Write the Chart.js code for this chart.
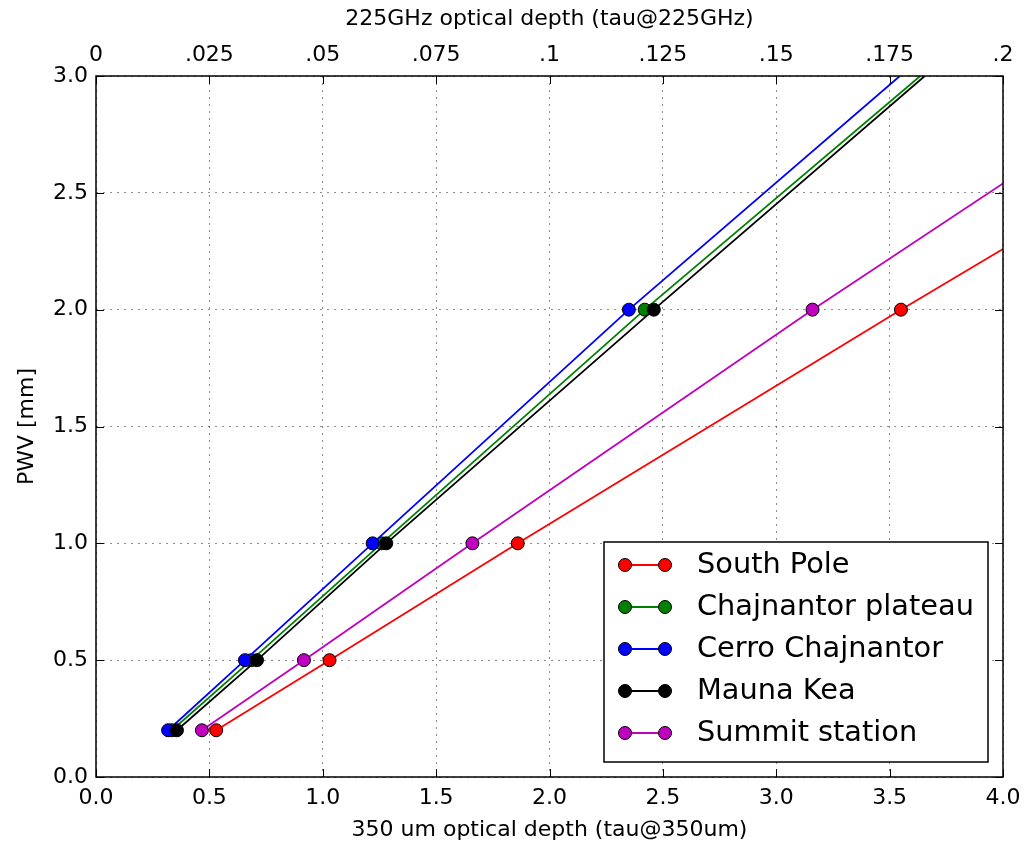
<!DOCTYPE html>
<html lang="en">
<head>
  <meta charset="UTF-8" />
  <title>PWV vs optical depth</title>
  <script src="https://cdn.jsdelivr.net/npm/chart.js"></script>
  <style>
    html, body { margin: 0; padding: 0; background: #fff; }
    #wrap { width: 1030px; height: 846px; }
  </style>
</head>
<body>
  <div id="wrap"><canvas id="grafica"></canvas></div>

  <script>
    // sites, in the order they are plotted
    const siteNames = ['South Pole', 'Chajnantor plateau', 'Cerro Chajnantor', 'Mauna Kea', 'Summit station'];
    const siteColors = ['#ff0000', '#008000', '#0000ff', '#000000', '#bf00bf'];

    // PWV [mm] where tau@350um was measured
    const pwvLevels = [0.2, 0.5, 1.0, 2.0];

    // tau@350um at each PWV level
    const tauSouthPole = [0.53, 1.03, 1.86, 3.55];
    const tauPlateau   = [0.335, 0.685, 1.26, 2.42];
    const tauCerro     = [0.318, 0.657, 1.22, 2.35];
    const tauMaunaKea  = [0.357, 0.71, 1.28, 2.46];
    const tauSummit    = [0.467, 0.917, 1.66, 3.16];

    // where each line runs out of the plot [tau@350um, pwv]
    const endSouthPole = [4.0, 2.26];
    const endPlateau   = [3.635, 3.0];
    const endCerro     = [3.545, 3.0];
    const endMaunaKea  = [3.655, 3.0];
    const endSummit    = [4.0, 2.54];

    // axis ticks
    const bottomTicks = [0, 0.5, 1.0, 1.5, 2.0, 2.5, 3.0, 3.5, 4.0];
    const yTicks = [0, 0.5, 1.0, 1.5, 2.0, 2.5, 3.0];
    const topTickLabels = ['0', '.025', '.05', '.075', '.1', '.125', '.15', '.175', '.2'];

    const siteTau = [tauSouthPole, tauPlateau, tauCerro, tauMaunaKea, tauSummit];
    const siteEnd = [endSouthPole, endPlateau, endCerro, endMaunaKea, endSummit];

    const datasets = siteNames.map((name, i) => {
      const pts = pwvLevels.map((p, k) => ({ x: siteTau[i][k], y: p }));
      pts.push({ x: siteEnd[i][0], y: siteEnd[i][1] });
      return {
        label: name,
        data: pts,
        borderColor: siteColors[i],
        backgroundColor: siteColors[i],
        pointBackgroundColor: siteColors[i],
        pointBorderColor: '#000',
        pointBorderWidth: 1,
        pointRadius: pts.map((_, k) => k < pwvLevels.length ? 6.5 : 0),
        borderWidth: 1.8,
        tension: 0,
        order: siteNames.length - i   // later sites on top, like the original
      };
    });

    const FONT = 'DejaVu Sans';

    // frame, inward ticks and legend
    const extrasPlugin = {
      id: 'extras',
      afterDraw(chart) {
        const { ctx, chartArea: a, scales } = chart;
        const tl = 8;
        ctx.save();
        ctx.strokeStyle = '#000';
        ctx.lineWidth = 1;
        const seg = (x1, y1, x2, y2) => { ctx.beginPath(); ctx.moveTo(x1, y1); ctx.lineTo(x2, y2); ctx.stroke(); };

        bottomTicks.forEach(v => {
          const px = Math.round(scales.x.getPixelForValue(v)) + 0.5;
          seg(px, a.bottom, px, a.bottom - tl);
        });
        scales.x2.ticks.forEach(t => {
          const px = Math.round(scales.x2.getPixelForValue(t.value)) + 0.5;
          seg(px, a.top, px, a.top + tl);
        });
        yTicks.forEach(v => {
          const py = Math.round(scales.y.getPixelForValue(v)) + 0.5;
          seg(a.left, py, a.left + tl, py);
          seg(a.right, py, a.right - tl, py);
        });

        ctx.lineWidth = 1.5;
        ctx.strokeRect(a.left, a.top, a.right - a.left, a.bottom - a.top);

        // legend box
        const bx = 604, by = 542, bw = 384, bh = 220;
        ctx.fillStyle = '#fff';
        ctx.fillRect(bx, by, bw, bh);
        ctx.lineWidth = 1.5;
        ctx.strokeRect(bx, by, bw, bh);
        ctx.font = '28.8px "' + FONT + '"';
        ctx.textBaseline = 'middle';
        siteNames.forEach((name, i) => {
          const y = 565 + i * 42;
          ctx.strokeStyle = siteColors[i];
          ctx.lineWidth = 1.8;
          seg(625, y, 665, y);
          [625, 665].forEach(cx => {
            ctx.beginPath();
            ctx.arc(cx, y, 6.5, 0, Math.PI * 2);
            ctx.fillStyle = siteColors[i];
            ctx.fill();
            ctx.lineWidth = 1;
            ctx.strokeStyle = '#000';
            ctx.stroke();
          });
          ctx.fillStyle = '#000';
          ctx.fillText(name, 697, y + 1);
        });
        ctx.restore();
      }
    };

    const gridStyle = {
      color: 'rgba(0,0,0,0.45)',
      lineWidth: 1,
      drawTicks: false
    };

    new Chart(document.getElementById('grafica').getContext('2d'), {
      type: 'line',
      data: { datasets },
      options: {
        responsive: true,
        maintainAspectRatio: false,
        devicePixelRatio: 1,
        animation: false,
        layout: { padding: { left: 0, right: 27, top: 0, bottom: 0 } },
        scales: {
          x: {
            type: 'linear',
            position: 'bottom',
            min: 0, max: 4.0,
            afterFit: s => { s.height = 69; },
            grid: gridStyle,
            border: { display: false, dash: [2, 5] },
            ticks: {
              stepSize: 0.5, padding: 8, color: '#000',
              font: { family: FONT, size: 22 },
              callback: v => v.toFixed(1)
            },
            title: {
              display: true, text: '350 um optical depth (tau@350um)', color: '#000',
              font: { family: FONT, size: 22 }, padding: { top: 0, bottom: 3 }
            }
          },
          x2: {
            type: 'linear',
            position: 'top',
            min: 0, max: 0.2,
            afterFit: s => { s.height = 76; },
            grid: { display: false, drawTicks: false },
            border: { display: false },
            ticks: {
              stepSize: 0.025, padding: 8, color: '#000',
              font: { family: FONT, size: 22 },
              callback: (v, i) => topTickLabels[i]
            },
            title: {
              display: true, text: '225GHz optical depth (tau@225GHz)', color: '#000',
              font: { family: FONT, size: 22 }, padding: { top: 6, bottom: 0 }
            }
          },
          y: {
            type: 'linear',
            min: 0, max: 3.0,
            afterFit: s => { s.width = 96; },
            grid: gridStyle,
            border: { display: false, dash: [2, 5] },
            ticks: {
              stepSize: 0.5, padding: 8, color: '#000',
              font: { family: FONT, size: 22 },
              callback: v => v.toFixed(1)
            },
            title: {
              display: true, text: 'PWV [mm]', color: '#000',
              font: { family: FONT, size: 22 }, padding: { top: 14, bottom: 0 }
            }
          }
        },
        plugins: {
          legend: { display: false },
          tooltip: { enabled: false }
        }
      },
      plugins: [extrasPlugin]
    });
  </script>
</body>
</html>
